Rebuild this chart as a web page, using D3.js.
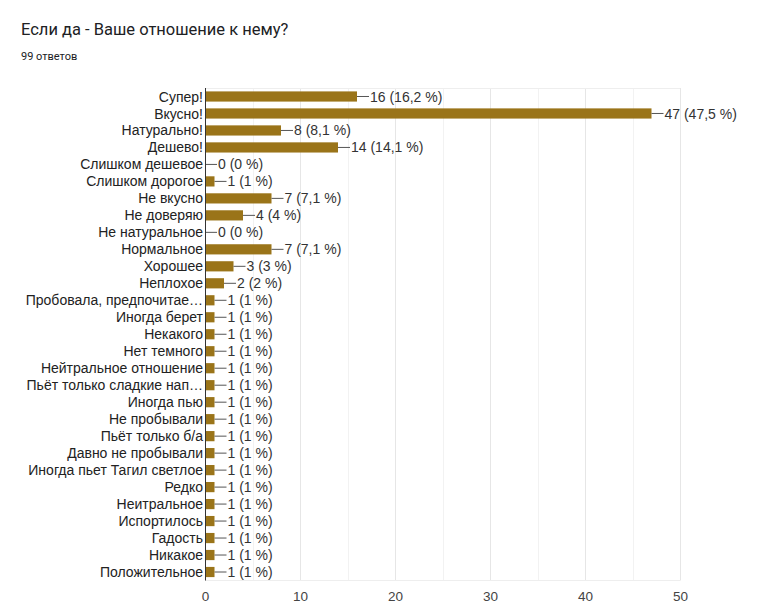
<!DOCTYPE html>
<html><head><meta charset="utf-8">
<script src="https://cdn.jsdelivr.net/npm/d3@7"></script>
<style>body{margin:0;background:#fff;}</style>
</head><body>
<svg id="c" width="762" height="615"></svg>
<script>
const categories = ["Супер!","Вкусно!","Натурально!","Дешево!","Слишком дешевое","Слишком дорогое","Не вкусно","Не доверяю","Не натуральное","Нормальное","Хорошее","Неплохое","Пробовала, предпочитае…","Иногда берет","Некакого","Нет темного","Нейтральное отношение","Пьёт только сладкие нап…","Иногда пью","Не пробывали","Пьёт только б/а","Давно не пробывали","Иногда пьет Тагил светлое","Редко","Неитральное","Испортилось","Гадость","Никакое","Положительное"];
const values = [16,47,8,14,0,1,7,4,0,7,3,2,1,1,1,1,1,1,1,1,1,1,1,1,1,1,1,1,1];
const percents = ["16,2","47,5","8,1","14,1","0","1","7,1","4","0","7,1","3","2","1","1","1","1","1","1","1","1","1","1","1","1","1","1","1","1","1"];
const xTicks = [0,10,20,30,40,50];
const minorTicks = [5,15,25,35,45];
const title = "Если да - Ваше отношение к нему?";
const subtitle = "99 ответов";

const svg = d3.select("#c");
const pLeft = 205, pRight = 680, pTop = 88, pBottom = 580.5;
const x = d3.scaleLinear().domain([0,50]).range([pLeft,pRight]);
const y = d3.scaleBand().domain(categories).range([pTop,pBottom]).paddingInner(0.4).paddingOuter(0.2);

svg.append("text").attr("x",21).attr("y",35).attr("font-family","Roboto, 'Open Sans', sans-serif")
  .attr("font-size",16.5).attr("fill","#202124").text(title);
svg.append("text").attr("x",21).attr("y",60).attr("font-family","Roboto, 'Open Sans', sans-serif")
  .attr("font-size",11).attr("fill","#202124").text(subtitle);

const g = svg.append("g");
g.selectAll("line.minor").data(minorTicks).join("line")
  .attr("x1",d=>Math.round(x(d))+0.5).attr("x2",d=>Math.round(x(d))+0.5).attr("y1",pTop).attr("y2",pBottom)
  .attr("stroke","#f2f2f2").attr("stroke-width",1);
g.selectAll("line.major").data(xTicks.slice(1)).join("line")
  .attr("x1",d=>Math.round(x(d))+0.5).attr("x2",d=>Math.round(x(d))+0.5).attr("y1",pTop).attr("y2",pBottom)
  .attr("stroke","#e6e6e6").attr("stroke-width",1);
g.append("line").attr("x1",pLeft).attr("x2",pRight).attr("y1",pTop+0.5).attr("y2",pTop+0.5).attr("stroke","#eeeeee");
g.append("line").attr("x1",pLeft).attr("x2",pRight).attr("y1",pBottom).attr("y2",pBottom).attr("stroke","#eeeeee");

const axis = d3.axisBottom(x).tickValues(xTicks).tickSize(0).tickPadding(10);
const ax = svg.append("g").attr("transform",`translate(0,${pBottom+1})`).call(axis);
ax.select(".domain").remove();
ax.selectAll("text").attr("font-family","Arial, 'Liberation Sans', sans-serif").attr("font-size",13.5).attr("fill","#444");

const rows = svg.selectAll("g.row").data(categories.map((c,i)=>({c,v:values[i],p:percents[i]}))).join("g");
rows.append("rect").attr("x",x(0)).attr("y",d=>y(d.c)).attr("width",d=>x(d.v)-x(0)).attr("height",y.bandwidth())
  .attr("fill","#9a7419");
rows.append("line").attr("x1",d=>x(d.v)).attr("x2",d=>x(d.v)+12)
  .attr("y1",d=>y(d.c)+y.bandwidth()/2).attr("y2",d=>y(d.c)+y.bandwidth()/2)
  .attr("stroke","#555").attr("stroke-width",1);
rows.append("text").attr("x",d=>x(d.v)+13).attr("y",d=>y(d.c)+y.bandwidth()/2).attr("dy","0.36em")
  .attr("font-family","Arial, 'Liberation Sans', sans-serif").attr("font-size",14).attr("fill","#333")
  .text(d=>`${d.v} (${d.p} %)`);
rows.append("text").attr("x",pLeft-2).attr("y",d=>y(d.c)+y.bandwidth()/2).attr("dy","0.36em")
  .attr("text-anchor","end").attr("font-family","Arial, 'Liberation Sans', sans-serif").attr("font-size",14).attr("fill","#222")
  .text(d=>d.c);

svg.append("line").attr("x1",pLeft+0.5).attr("x2",pLeft+0.5).attr("y1",pTop).attr("y2",pBottom).attr("stroke","#333").attr("stroke-width",1);
</script>
</body></html>
